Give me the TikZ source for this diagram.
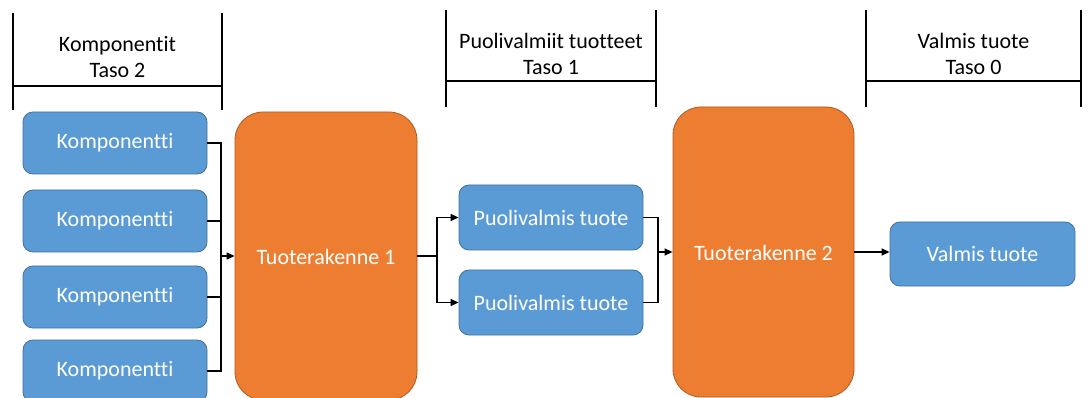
\documentclass[tikz,border=0pt]{standalone}
\usepackage{fontspec}
\setmainfont[Ligatures={NoCommon}]{Carlito}
\usetikzlibrary{arrows.meta}
\definecolor{bluefill}{HTML}{5B9BD5}
\definecolor{blueedge}{HTML}{41719C}
\definecolor{orangefill}{HTML}{ED7D31}
\definecolor{orangeedge}{HTML}{AE5A21}
\tikzset{
  bluebox/.style={rectangle, rounded corners=10pt, fill=bluefill, draw=blueedge, line width=0.8pt,
    text=white, font=\fontsize{22}{26}\selectfont, minimum width=184pt, inner sep=0pt},
  orangebox/.style={rectangle, rounded corners=28pt, fill=orangefill, draw=orangeedge, line width=0.8pt,
    text=white, font=\fontsize{22}{26}\selectfont, inner sep=0pt},
  conn/.style={line width=1.4pt, black},
  arr/.style={conn, -{Triangle[length=8pt,width=7pt]}},
  hline/.style={line width=1.4pt, black},
  headtxt/.style={font=\fontsize{22}{26}\selectfont, align=center, inner sep=0pt, text=black},
  boxtxt/.style={text=white, font=\fontsize{22}{26}\selectfont, inner sep=0pt}
}
\begin{document}
\begin{tikzpicture}[x=1pt,y=-1pt]
\useasboundingbox (0,0) rectangle (1090,398);
\fill[white] (0,0) rectangle (1090,398);

% headers
\draw[hline] (13,13) -- (13,110);
\draw[hline] (222,13) -- (222,110);
\draw[hline] (13,86) -- (222,86);
\node[headtxt] (h1) at (117.5,57) {Komponentit\\Taso 2};

\draw[hline] (446,10) -- (446,107);
\draw[hline] (656,10) -- (656,107);
\draw[hline] (446,81) -- (656,81);
\node[headtxt] (h2) at (551,54) {Puolivalmiit tuotteet\\Taso 1};

\draw[hline] (866,10) -- (866,107);
\draw[hline] (1081,10) -- (1081,107);
\draw[hline] (866,81) -- (1081,81);
\node[headtxt] (h3) at (973.5,54) {Valmis tuote\\Taso 0};

% components
\node[bluebox, minimum height=62pt] (c1) at (115,143) {Komponentti};
\node[bluebox, minimum height=62pt] (c2) at (115,221) {Komponentti};
\node[bluebox, minimum height=62pt] (c3) at (115,297) {Komponentti};
\node[bluebox, minimum height=62pt] (c4) at (115,371) {Komponentti};

% structures
\node[orangebox, minimum width=182pt, minimum height=288pt] (o1) at (326,256) {};
\node[boxtxt] (t1) at (326,257) {Tuoterakenne 1};
\node[orangebox, minimum width=181pt, minimum height=290pt] (o2) at (763.5,252) {};
\node[boxtxt] (t2) at (763.5,253) {Tuoterakenne 2};

% semi-finished
\node[bluebox, minimum height=65pt] (p1) at (551,217.5) {Puolivalmis tuote};
\node[bluebox, minimum height=65pt] (p2) at (551,302.5) {Puolivalmis tuote};

% finished
\node[bluebox, minimum width=185pt, minimum height=64pt] (v) at (982.5,254) {Valmis tuote};

% connectors
\coordinate (bus1) at (221,256);
\draw[conn] (c1.east) -| (bus1);
\draw[conn] (c4.east) -| (bus1);
\draw[conn] (c2.east) -- (c2.east -| bus1);
\draw[conn] (c3.east) -- (c3.east -| bus1);
\draw[arr] (bus1) -- (o1.west);

\coordinate (split1) at (437,256);
\draw[conn] (o1.east) -- (split1);
\draw[arr] (split1) |- (p1.west);
\draw[arr] (split1) |- (p2.west);

\coordinate (merge1) at (658,252);
\draw[conn] (p1.east) -| (merge1);
\draw[conn] (p2.east) -| (merge1);
\draw[arr] (merge1) -- (o2.west);

\draw[arr] (o2.east) -- (o2.east -| v.west);
\end{tikzpicture}
\end{document}
